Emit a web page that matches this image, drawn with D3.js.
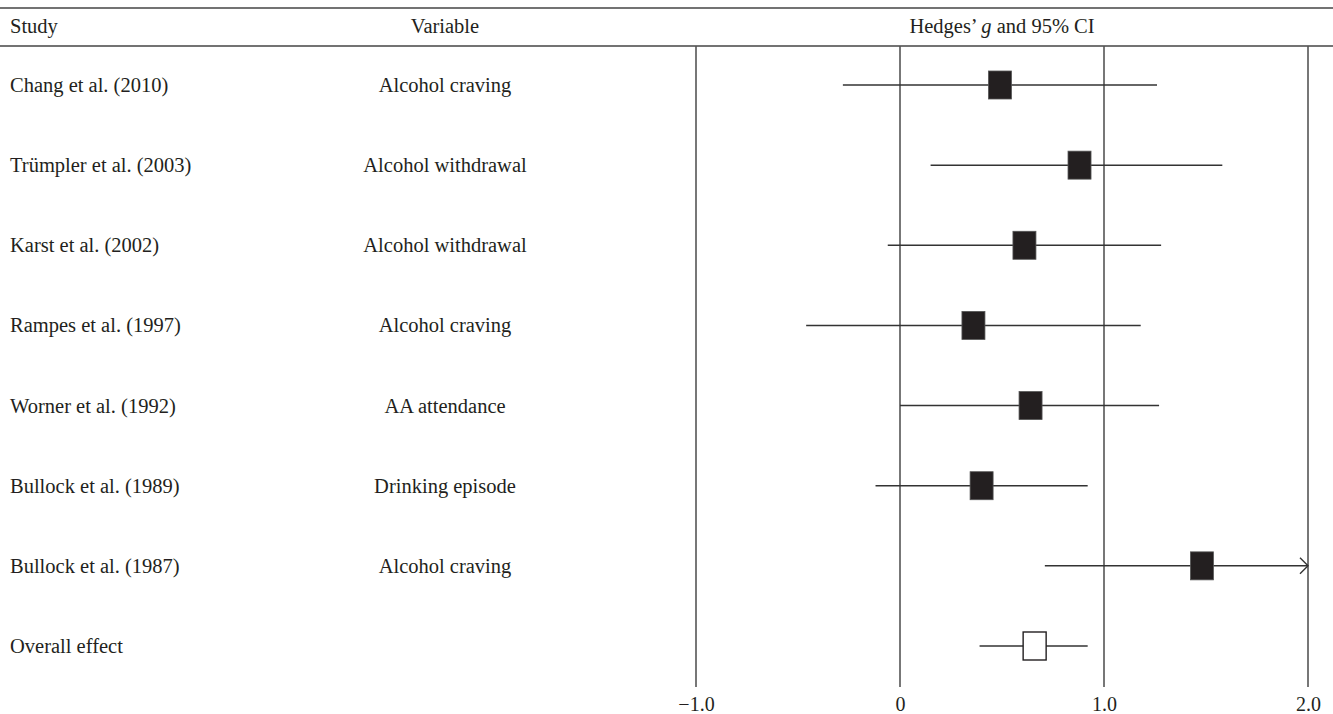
<!DOCTYPE html>
<html>
<head>
<meta charset="utf-8">
<script src="https://cdn.jsdelivr.net/npm/d3@7"></script>
<style>
  html, body { margin: 0; padding: 0; background: #fff; }
  svg { display: block; }
  text { font-family: "Liberation Serif", "Times New Roman", serif; fill: #231f20; }
</style>
</head>
<body>
<svg id="chart" width="1333" height="714"></svg>
<script>
// Forest plot data: Hedges' g with 95% confidence intervals
const studies = [
  "Chang et al. (2010)",
  "Trümpler et al. (2003)",
  "Karst et al. (2002)",
  "Rampes et al. (1997)",
  "Worner et al. (1992)",
  "Bullock et al. (1989)",
  "Bullock et al. (1987)",
  "Overall effect"
];
const variables = [
  "Alcohol craving",
  "Alcohol withdrawal",
  "Alcohol withdrawal",
  "Alcohol craving",
  "AA attendance",
  "Drinking episode",
  "Alcohol craving",
  ""
];
const effect = [0.49, 0.88, 0.61, 0.36, 0.64, 0.40, 1.48, 0.66];
const ciLow  = [-0.28, 0.15, -0.06, -0.46, 0.00, -0.12, 0.71, 0.39];
const ciHigh = [1.26, 1.58, 1.28, 1.18, 1.27, 0.92, 2.00, 0.92];
// upper bound runs past the plotted range (drawn with an arrow)
const truncated = [false, false, false, false, false, false, true, false];
const isSummary = [false, false, false, false, false, false, false, true];
const tickValues = [-1, 0, 1, 2];
const tickLabels = ["\u22121.0", "0", "1.0", "2.0"];

const rowsData = studies.map((s, i) => ({
  i, study: s, variable: variables[i], g: effect[i],
  lo: ciLow[i], hi: ciHigh[i], trunc: truncated[i], summary: isSummary[i]
}));

const svg = d3.select("#chart");
const W = 1333;
const FS = 20.5;

const x = d3.scaleLinear().domain([-1, 2]).range([696, 1308]);
const y = d3.scalePoint().domain(d3.range(studies.length)).range([85, 646]);

const ink = "#231f20";

// header rules
svg.append("line").attr("x1", 0).attr("x2", W).attr("y1", 8).attr("y2", 8)
  .attr("stroke", "#444").attr("stroke-width", 1.5);
svg.append("line").attr("x1", 0).attr("x2", W).attr("y1", 46).attr("y2", 46)
  .attr("stroke", "#444").attr("stroke-width", 1.5);

// header labels
const hdrY = 33;
svg.append("text").attr("x", 10).attr("y", hdrY).attr("font-size", FS).text("Study");
svg.append("text").attr("x", 445).attr("y", hdrY).attr("font-size", FS)
  .attr("text-anchor", "middle").text("Variable");
const h = svg.append("text").attr("x", 1002).attr("y", hdrY).attr("font-size", FS)
  .attr("text-anchor", "middle");
h.append("tspan").text("Hedges\u2019 ");
h.append("tspan").attr("font-style", "italic").text("g");
h.append("tspan").text(" and 95% CI");

// axis labels under the reference lines
const axis = d3.axisBottom(x).tickValues(tickValues)
  .tickFormat((d, i) => tickLabels[i]).tickSize(0).tickPadding(0);
const gAxis = svg.append("g").attr("transform", "translate(0,711)").call(axis);
gAxis.select(".domain").remove();
gAxis.selectAll("text").attr("font-size", 20)
  .attr("font-family", "'Liberation Serif', serif").attr("fill", ink)
  .attr("dy", 0).attr("y", 0);

// vertical reference lines
svg.append("g").selectAll("line").data(tickValues).join("line")
  .attr("x1", d => x(d)).attr("x2", d => x(d))
  .attr("y1", 46).attr("y2", 687)
  .attr("stroke", "#555").attr("stroke-width", 1.6);

// one group per row
const rows = svg.append("g").selectAll("g").data(rowsData).join("g");
rows.append("text").attr("x", 10).attr("y", d => y(d.i) + 7)
  .attr("font-size", FS).text(d => d.study);
rows.append("text").attr("x", 445).attr("y", d => y(d.i) + 7)
  .attr("font-size", FS).attr("text-anchor", "middle").text(d => d.variable);

// confidence intervals
rows.append("line")
  .attr("x1", d => x(d.lo)).attr("x2", d => x(d.hi))
  .attr("y1", d => y(d.i)).attr("y2", d => y(d.i))
  .attr("stroke", "#333").attr("stroke-width", 1.5);

// arrowheads for truncated intervals
rows.filter(d => d.trunc).append("path")
  .attr("d", d => {
    const xe = x(d.hi), yc = y(d.i);
    return `M${xe - 8},${yc - 8} L${xe},${yc} L${xe - 8},${yc + 8}`;
  })
  .attr("fill", "none").attr("stroke", "#333").attr("stroke-width", 1.4);

// point estimates
const bw = 23, bh = 28;
rows.append("rect")
  .attr("x", d => x(d.g) - bw / 2)
  .attr("y", d => y(d.i) - bh / 2)
  .attr("width", bw).attr("height", bh)
  .attr("fill", d => d.summary ? "#fff" : ink)
  .attr("stroke", d => d.summary ? ink : "#555")
  .attr("stroke-width", d => d.summary ? 1.4 : 0.8);
</script>
</body>
</html>
